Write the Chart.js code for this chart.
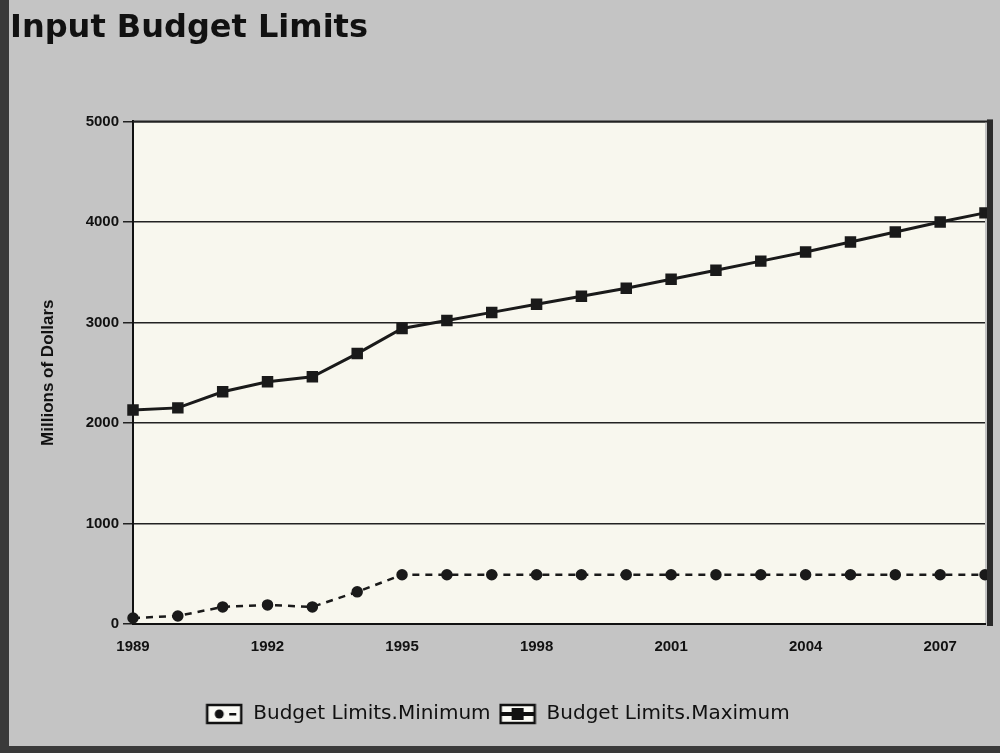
<!DOCTYPE html>
<html>
<head>
<meta charset="utf-8">
<script src="https://cdn.jsdelivr.net/npm/chart.js@4"></script>
<style>
  html, body { margin:0; padding:0; background:#c4c4c4; }
  #wrap { width:1000px; height:753px; }
</style>
</head>
<body>
<div id="wrap"><canvas id="budgetChart" width="1000" height="753"></canvas></div>
<script>
// years on the x axis, every 3rd one gets a label
var years = ['1989','1990','1991','1992','1993','1994','1995','1996','1997','1998',
             '1999','2000','2001','2002','2003','2004','2005','2006','2007','2008'];
var budgetMin = [60, 80, 170, 190, 170, 320, 490, 490, 490, 490,
                 490, 490, 490, 490, 490, 490, 490, 490, 490, 490];
var budgetMax = [2130, 2150, 2310, 2410, 2460, 2690, 2940, 3020, 3100, 3180,
                 3260, 3340, 3430, 3520, 3610, 3700, 3800, 3900, 4000, 4090];
var yTicks = [0, 1000, 2000, 3000, 4000, 5000];

// legend icons, drawn once on small canvases
function makeIcon(kind) {
    var c = document.createElement('canvas');
    c.width = 38; c.height = 22;
    var g = c.getContext('2d');
    g.fillStyle = '#fbfbf6';
    g.fillRect(2, 2, 34, 18);
    g.strokeStyle = '#111';
    g.lineWidth = 2.5;
    g.strokeRect(2, 2, 34, 18);
    g.fillStyle = '#111';
    if (kind == 'min') {
        g.beginPath(); g.arc(14, 11, 4.5, 0, Math.PI * 2); g.fill();
        g.fillRect(24, 10, 7, 2.5);
    } else {
        g.fillRect(2, 9, 34, 4);
        g.fillRect(13, 5, 12, 12);
    }
    return c;
}

var bgPlugin = {
    id: 'bgPlugin',
    beforeDraw: function(chart) {
        var ctx = chart.ctx, a = chart.chartArea;
        ctx.save();
        ctx.fillStyle = '#c4c4c4';
        ctx.fillRect(0, 0, chart.width, chart.height);
        ctx.fillStyle = '#3a3a3a';
        ctx.fillRect(0, 0, 9, chart.height);
        ctx.fillRect(0, chart.height - 7, chart.width, 7);
        ctx.fillStyle = '#f8f7ee';
        ctx.fillRect(a.left, a.top, a.right - a.left, a.bottom - a.top);
        ctx.restore();
    },
    afterDraw: function(chart) {
        var ctx = chart.ctx, a = chart.chartArea;
        ctx.save();
        ctx.strokeStyle = '#222';
        ctx.lineWidth = 2;
        ctx.beginPath();
        ctx.moveTo(a.left, a.top); ctx.lineTo(a.right + 4, a.top);
        ctx.stroke();
        ctx.fillStyle = '#2a2a2a';
        ctx.fillRect(a.right + 2, a.top - 2, 6, a.bottom - a.top + 4);
        ctx.restore();
    }
};

var fnt = 'DejaVu Sans, Liberation Sans, Arial, sans-serif';

new Chart(document.getElementById('budgetChart'), {
    type: 'line',
    plugins: [bgPlugin],
    data: {
        labels: years,
        datasets: [{
            label: 'Budget Limits.Minimum',
            data: budgetMin,
            borderColor: '#1a1a1a',
            backgroundColor: '#1a1a1a',
            borderWidth: 2.5,
            borderDash: [7, 6],
            pointStyle: 'circle',
            pointRadius: 4.5,
            tension: 0,
            clip: 8
        }, {
            label: 'Budget Limits.Maximum',
            data: budgetMax,
            borderColor: '#1a1a1a',
            backgroundColor: '#1a1a1a',
            borderWidth: 3,
            pointStyle: 'rect',
            pointRadius: 6,
            tension: 0,
            clip: 8
        }]
    },
    options: {
        responsive: false,
        animation: false,
        layout: { padding: { left: 10, right: 15, bottom: 19 } },
        plugins: {
            title: {
                display: true,
                text: 'Input Budget Limits',
                align: 'start',
                color: '#111',
                font: { family: fnt, size: 32, weight: 'bold' },
                padding: { top: 9, bottom: 74 }
            },
            legend: {
                position: 'bottom',
                labels: {
                    usePointStyle: true,
                    pointStyleWidth: 38,
                    color: '#111',
                    font: { family: fnt, size: 20 },
                    padding: 8,
                    generateLabels: function(chart) {
                        return chart.data.datasets.map(function(ds, i) {
                            return {
                                text: ds.label,
                                pointStyle: makeIcon(i == 0 ? 'min' : 'max'),
                                fontColor: '#111',
                                datasetIndex: i
                            };
                        });
                    }
                }
            },
            tooltip: { enabled: false }
        },
        scales: {
            x: {
                offset: false,
                grid: { display: false },
                border: { color: '#111', width: 2 },
                ticks: {
                    autoSkip: false,
                    maxRotation: 0,
                    color: '#111',
                    padding: 6,
                    font: { family: 'Liberation Sans, Arial, sans-serif', size: 15, weight: 'bold' },
                    callback: function(v, i) { return i % 3 == 0 ? years[i] : ''; }
                },
                afterFit: function(s) { s.height = 72; }
            },
            y: {
                min: 0,
                max: 5000,
                afterBuildTicks: function(s) { s.ticks = yTicks.map(function(v) { return { value: v }; }); },
                grid: { color: '#222', lineWidth: 1.5, tickLength: 10, drawTicks: true },
                border: { color: '#111', width: 2 },
                ticks: {
                    color: '#111',
                    padding: 4,
                    font: { family: 'Liberation Sans, Arial, sans-serif', size: 15, weight: 'bold' },
                    callback: function(v) { return String(v); }
                },
                title: {
                    display: true,
                    text: 'Millions of Dollars',
                    color: '#111',
                    font: { family: 'Liberation Sans, Arial, sans-serif', size: 17, weight: 'bold' },
                    padding: { top: 28, bottom: 12 }
                },
                afterFit: function(s) { s.width = 123; }
            }
        }
    }
});
</script>
</body>
</html>
